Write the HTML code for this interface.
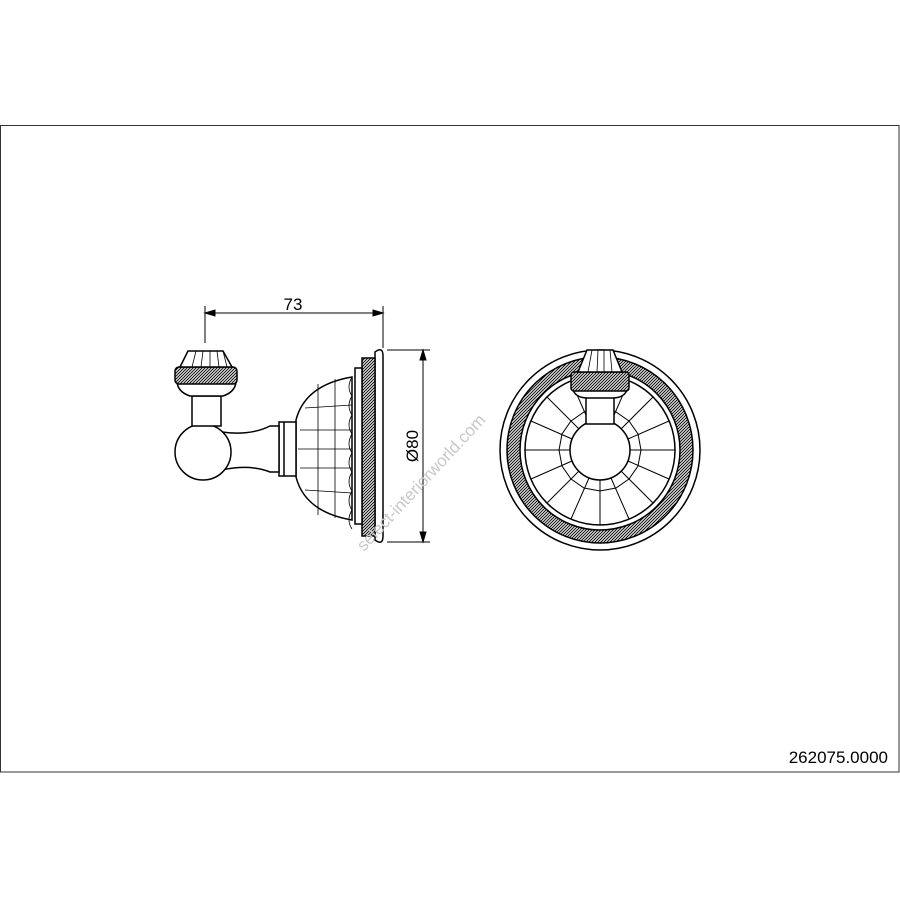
<!DOCTYPE html>
<html><head><meta charset="utf-8"><style>html,body{margin:0;padding:0;background:#fff}svg{display:block}</style></head>
<body>
<svg width="900" height="900" viewBox="0 0 900 900" xmlns="http://www.w3.org/2000/svg" font-family="Liberation Sans, sans-serif">
<defs>
<pattern id="hatch" width="3" height="3" patternUnits="userSpaceOnUse"><rect width="3" height="3" fill="#fff"/><path d="M0 3L3 0M-1 1L1 -1M2 4L4 2" stroke="#111" stroke-width="1.1"/></pattern>
</defs>
<rect x="0.5" y="125.5" width="898.5" height="646.5" fill="none" stroke="#333" stroke-width="1"/>
<text x="888" y="763" font-size="17" text-anchor="end" fill="#000">262075.0000</text>

<g stroke="#000" fill="none" stroke-width="1">
<line x1="205" y1="306" x2="205" y2="343"/>
<line x1="383" y1="306" x2="383" y2="348"/>
<line x1="205" y1="313" x2="383" y2="313"/>
<path d="M205 313l10 -3v6z M383 313l-10 -3v6z" fill="#000"/>
<line x1="387" y1="350" x2="430" y2="350"/>
<line x1="387" y1="542" x2="430" y2="542"/>
<line x1="423" y1="350" x2="423" y2="542"/>
<path d="M423 350l-3 10h6z M423 542l-3 -10h6z" fill="#000"/>
</g>
<text x="293" y="310" font-size="17" text-anchor="middle">73</text>
<text x="0" y="0" font-size="17" text-anchor="middle" transform="translate(418 446) rotate(-90)">Ø80</text>

<g stroke="#000" fill="#fff" stroke-width="1.5">
<path d="M375 352 Q383 346 383 356 L383 536 Q383 546 375 540 Z"/>
<rect x="362" y="358" width="13" height="178" fill="url(#hatch)"/>
<rect x="355" y="368" width="7" height="156"/>
<path d="M296 420 Q305 385 352 377 L352 520 Q305 512 296 477 Z"/>
<rect x="279" y="422" width="17" height="54"/>
<line x1="284" y1="422" x2="284" y2="476"/>
<path d="M222 432 Q250 436 270 426 L279 426 L279 472 L270 472 Q250 464 222 470 Z"/>
<circle cx="203" cy="452" r="28"/>
<rect x="192" y="396" width="29" height="30"/>
<path d="M177 382 Q178 392 190 396 L223 396 Q235 392 236 382 Z"/>
<rect x="175" y="367" width="62" height="17" rx="4" fill="url(#hatch)"/>
<path d="M180 367 L188 351 L223 351 L232 367 Z"/>
</g>
<g stroke="#000" stroke-width="0.8" fill="none">
<path d="M196 351 L192 367 M203 351 L201 367 M210 351 L210 367 M217 351 L219 367 M223 351 L227 367"/>
<path d="M300 430 L352 430 M298 449 L352 449 M300 468 L352 468 M305 408 L352 405 M305 490 L352 493 M318 384 L318 515 M335 379 L335 518"/>
<path d="M352 377 q-6 10 0 19 q-6 10 0 19 q-6 10 0 19 q-6 10 0 19 q-6 10 0 19 q-6 10 0 19 q-6 10 0 19 q-6 10 0 19"/>
</g>

<g stroke="#000" fill="none" stroke-width="1.5">
<circle cx="600" cy="450" r="100" fill="#fff"/>
<circle cx="600" cy="450" r="93" fill="url(#hatch)"/>
<circle cx="600" cy="450" r="80" fill="#fff"/>
<circle cx="600" cy="450" r="75"/>
<polygon points="641,450 638,466 629,479 616,488 600,491 584,488 571,479 562,466 559,450 562,434 571,421 584,412 600,409 616,412 629,421 638,434" stroke-width="1"/>
<circle cx="600" cy="450" r="30" fill="#fff"/>
</g>
<g stroke="#000" stroke-width="1">
<line x1="630" y1="450" x2="675" y2="450"/><line x1="570" y1="450" x2="525" y2="450"/>
<line x1="600" y1="480" x2="600" y2="525"/>
<line x1="621" y1="471" x2="653" y2="503"/><line x1="579" y1="471" x2="547" y2="503"/>
<line x1="621" y1="429" x2="653" y2="397"/><line x1="579" y1="429" x2="547" y2="397"/>
<line x1="628" y1="461" x2="669" y2="479"/><line x1="572" y1="461" x2="531" y2="479"/>
<line x1="628" y1="439" x2="669" y2="421"/><line x1="572" y1="439" x2="531" y2="421"/>
<line x1="611" y1="478" x2="629" y2="519"/><line x1="589" y1="478" x2="571" y2="519"/>
<line x1="611" y1="422" x2="629" y2="381"/><line x1="589" y1="422" x2="571" y2="381"/>
</g>
<g stroke="#000" fill="#fff" stroke-width="1.5">
<rect x="586" y="396" width="28" height="28"/>
<path d="M573 390 Q576 398 588 398 L612 398 Q624 398 627 390 Z"/>
<rect x="571" y="372" width="58" height="19" rx="3" fill="url(#hatch)"/>
<path d="M578 372 L587 350 L613 350 L622 372 Z"/>
</g>
<path d="M592 350 L588 372 M598 350 L597 372 M604 350 L604 372 M610 350 L612 372" stroke="#000" stroke-width="0.8"/>

<text x="0" y="0" font-size="17" fill="#c8c8c8" transform="translate(364 552) rotate(-47)">select-interiorworld.com</text>
</svg>
</body></html>
